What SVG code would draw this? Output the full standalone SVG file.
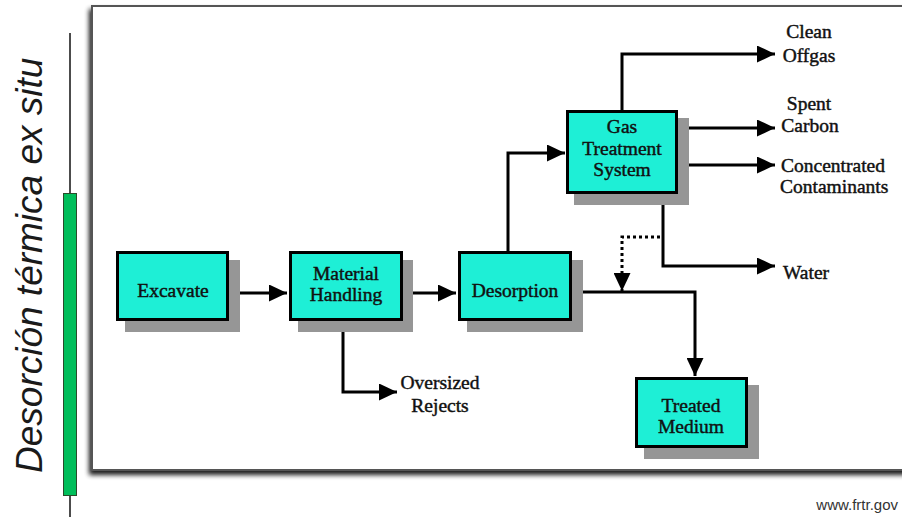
<svg xmlns="http://www.w3.org/2000/svg" width="902" height="517" viewBox="0 0 902 517">
<defs>
<style>
.box{fill:#1EEFD6;stroke:#000;stroke-width:3}
.sh{fill:#969696}
.lbl{font-family:'Liberation Serif','Times New Roman',serif;font-weight:normal;font-size:19.5px;fill:#111;stroke:#111;stroke-width:0.45}
.c{text-anchor:middle}
.ln{fill:none;stroke:#000;stroke-width:3}
.dot{fill:none;stroke:#000;stroke-width:3;stroke-dasharray:3 3}
</style>
<marker id="ah" viewBox="0 0 18 17" refX="18" refY="8.5" markerWidth="18" markerHeight="17" markerUnits="userSpaceOnUse" orient="auto">
<path d="M0,0 L18,8.5 L0,17 Z" fill="#000"/>
</marker>
<filter id="fs" x="-5%" y="-5%" width="110%" height="115%">
<feGaussianBlur in="SourceAlpha" stdDeviation="2.5"/>
<feOffset dx="-2" dy="4" result="b"/>
<feComponentTransfer><feFuncA type="linear" slope="0.9"/></feComponentTransfer>
<feMerge><feMergeNode/><feMergeNode in="SourceGraphic"/></feMerge>
</filter>
</defs>
<rect width="902" height="517" fill="#fff"/>
<g id="frame">
<rect x="92" y="6" width="830" height="464" fill="#fff" stroke="#555" stroke-width="2" filter="url(#fs)"/>
</g>
<g id="sidebar">
<line x1="70" y1="33" x2="70" y2="517" stroke="#111" stroke-width="1.5"/>
<rect x="63.5" y="193.5" width="13" height="302" fill="#00BE5A" stroke="#2a4a2a" stroke-width="1"/>
<text transform="translate(42,473) rotate(-90)" font-family="'Liberation Sans',Arial,sans-serif" font-style="italic" font-size="37" fill="#1a1a1a">Desorción térmica ex situ</text>
</g>
<g id="connectors">
<line class="ln" x1="229" y1="293" x2="287" y2="293" marker-end="url(#ah)"/>
<line class="ln" x1="403" y1="293" x2="456" y2="293" marker-end="url(#ah)"/>
<polyline class="ln" points="343,321 343,392 397,392" marker-end="url(#ah)"/>
<polyline class="ln" points="508,251 508,153 565,153" marker-end="url(#ah)"/>
<polyline class="ln" points="622,110 622,54 775,54" marker-end="url(#ah)"/>
<line class="ln" x1="678" y1="128" x2="775" y2="128" marker-end="url(#ah)"/>
<line class="ln" x1="678" y1="165" x2="775" y2="165" marker-end="url(#ah)"/>
<polyline class="ln" points="663,194 663,266 775,266" marker-end="url(#ah)"/>
<polyline class="dot" points="660,237 622,237 622,291" marker-end="url(#ah)"/>
<polyline class="ln" points="572,292 695,292 695,376" stroke-width="2.5" marker-end="url(#ah)"/>
</g>
<g id="excavate">
<rect class="sh" x="125" y="260" width="115" height="72"/>
<rect class="box" x="117.5" y="252.5" width="110" height="67"/>
<text class="lbl c" x="173" y="297">Excavate</text>
</g>
<g id="material-handling">
<rect class="sh" x="298" y="260" width="115" height="72"/>
<rect class="box" x="290.5" y="252.5" width="111" height="67"/>
<text class="lbl c" x="346" y="280">Material</text>
<text class="lbl c" x="346" y="301">Handling</text>
</g>
<g id="desorption">
<rect class="sh" x="467" y="260" width="116" height="72"/>
<rect class="box" x="459.5" y="252.5" width="111" height="67"/>
<text class="lbl c" x="515" y="297">Desorption</text>
</g>
<g id="gas-treatment">
<rect class="sh" x="574" y="118" width="115" height="87"/>
<rect class="box" x="567.5" y="111.5" width="109" height="81"/>
<text class="lbl c" x="622" y="133">Gas</text>
<text class="lbl c" x="622" y="155">Treatment</text>
<text class="lbl c" x="622" y="176">System</text>
</g>
<g id="treated-medium">
<rect class="sh" x="644" y="385" width="115" height="74"/>
<rect class="box" x="636.5" y="378.5" width="110" height="68"/>
<text class="lbl c" x="691" y="412">Treated</text>
<text class="lbl c" x="691" y="433">Medium</text>
</g>
<g id="outputs">
<text class="lbl c" x="440" y="389">Oversized</text>
<text class="lbl c" x="440" y="412">Rejects</text>
<text class="lbl c" x="809" y="38">Clean</text>
<text class="lbl c" x="809" y="62">Offgas</text>
<text class="lbl c" x="809" y="110">Spent</text>
<text class="lbl c" x="810" y="132">Carbon</text>
<text class="lbl" x="781" y="172">Concentrated</text>
<text class="lbl" x="780" y="193">Contaminants</text>
<text class="lbl" x="783" y="279">Water</text>
</g>
<text x="898" y="510" text-anchor="end" font-family="'Liberation Sans',Arial,sans-serif" font-size="15" fill="#333">www.frtr.gov</text>
</svg>
